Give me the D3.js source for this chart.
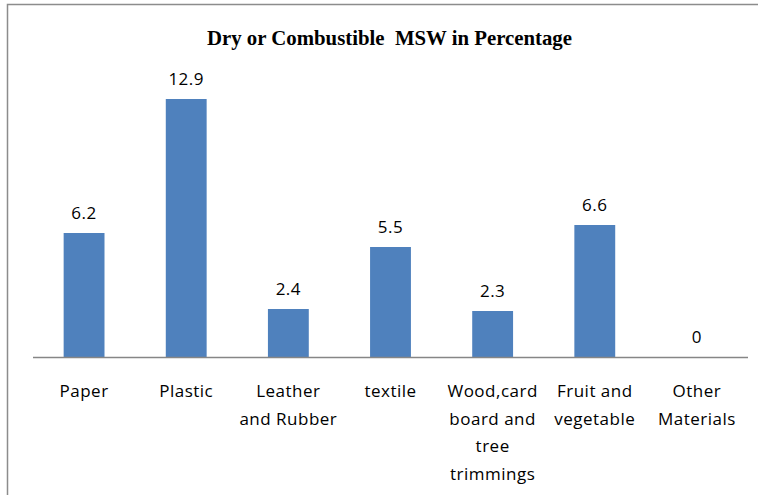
<!DOCTYPE html>
<html><head><meta charset="utf-8">
<script src="https://cdn.jsdelivr.net/npm/d3@7"></script>
<style>body{margin:0;background:#fff;}svg{display:block;}</style>
</head><body>
<script>
const categories = ["Paper","Plastic","Leather and Rubber","textile","Wood,card board and tree trimmings","Fruit and vegetable","Other Materials"];
const labelLines = [["Paper"],["Plastic"],["Leather","and Rubber"],["textile"],["Wood,card","board and","tree","trimmings"],["Fruit and","vegetable"],["Other","Materials"]];
const values = [6.2,12.9,2.4,5.5,2.3,6.6,0];
const title = "Dry or Combustible  MSW in Percentage";

const W=758,H=495;
const svg=d3.select("body").append("svg").attr("width",W).attr("height",H);
svg.append("rect").attr("x",7.5).attr("y",4.5).attr("width",W+10).attr("height",H+10)
  .attr("fill","#fff").attr("stroke","#8c8c8c").attr("stroke-width",1.5);

const x=d3.scaleBand().domain(categories).range([33,748]).paddingInner(0.6).paddingOuter(0.3);
const y=d3.scaleLinear().domain([0,13]).range([357,97]);

svg.append("text").attr("x",207).attr("y",45)
  .attr("font-family","Liberation Serif, Times New Roman, serif").attr("font-weight","bold")
  .attr("font-size",21).attr("fill","#000").style("white-space","pre")
  .attr("textLength",365).attr("lengthAdjust","spacingAndGlyphs").text(title);

svg.selectAll("rect.bar").data(values).join("rect").attr("class","bar")
  .attr("x",(d,i)=>x(categories[i])).attr("width",x.bandwidth())
  .attr("y",d=>y(d)).attr("height",d=>y(0)-y(d)).attr("fill","#4F81BD");

svg.append("line").attr("x1",33).attr("x2",748).attr("y1",357.5).attr("y2",357.5)
  .attr("stroke","#868686").attr("stroke-width",1.5);

const font="Open Sans, Noto Sans, sans-serif";
svg.selectAll("text.val").data(values).join("text").attr("class","val")
  .attr("x",(d,i)=>x(categories[i])+x.bandwidth()/2).attr("y",d=>y(d)-14)
  .attr("text-anchor","middle").attr("font-family",font).attr("font-size",17)
  .attr("letter-spacing",0.5).attr("fill","#000")
  .text(d=>d);

labelLines.forEach((lines,i)=>{
  const cx=x(categories[i])+x.bandwidth()/2;
  lines.forEach((ln,j)=>{
    svg.append("text").attr("x",cx).attr("y",397+j*27.5).attr("text-anchor","middle")
      .attr("font-family",font).attr("font-size",17).attr("letter-spacing",0.5)
      .attr("fill","#000").text(ln);
  });
});
</script>
</body></html>
